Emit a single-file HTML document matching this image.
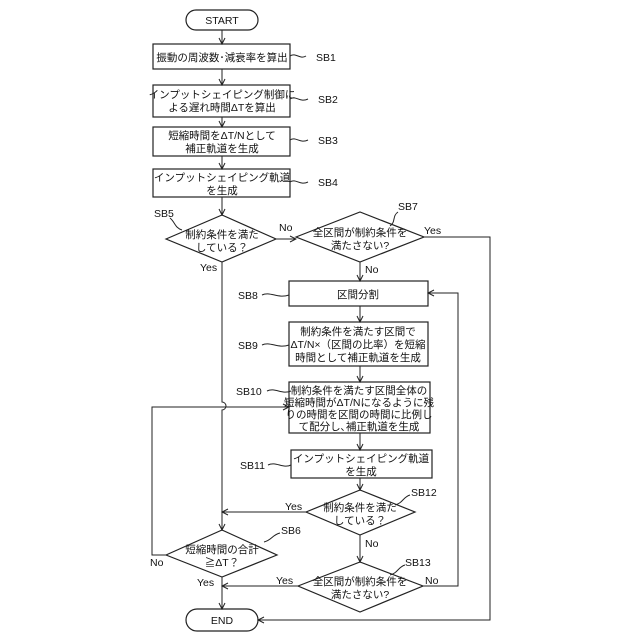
<!DOCTYPE html>
<html><head><meta charset="utf-8"><style>
body{margin:0;background:#fff}
svg{display:block}
text{font-family:"Liberation Sans","Noto Sans CJK JP",sans-serif;font-size:10.5px;fill:#111}
.l{font-size:11px}
</style></head><body>
<svg width="640" height="640" viewBox="0 0 640 640">
<defs><marker id="a" markerWidth="8" markerHeight="8" refX="7" refY="4" orient="auto" markerUnits="userSpaceOnUse"><path d="M1,1 L7,4 L1,7" fill="none" stroke="#222" stroke-width="1"/></marker></defs>
<g fill="none" stroke="#222" stroke-width="1.2">
<rect x="186" y="10" width="72" height="20" rx="10"/>
<rect x="186" y="609" width="72" height="22" rx="11"/>
<rect x="153" y="44" width="137" height="25"/>
<rect x="153" y="85" width="137" height="32"/>
<rect x="153" y="127" width="137" height="29"/>
<rect x="153" y="169" width="137" height="28"/>
<polygon points="166,239 222,215 276,239 222,262"/>
<polygon points="296,237 360,212 424,237 360,262"/>
<rect x="289" y="281" width="139" height="25"/>
<rect x="289" y="322" width="139" height="44"/>
<rect x="289" y="382" width="141" height="51"/>
<rect x="291" y="450" width="141" height="28"/>
<polygon points="306,512 360,490 415,512 360,535"/>
<polygon points="298,586 360,562 423,586 360,612"/>
<polygon points="166,555 222,530 277,555 222,577"/>
</g>
<g fill="none" stroke="#222" stroke-width="1">
<line x1="222" y1="30" x2="222" y2="44" marker-end="url(#a)"/>
<line x1="222" y1="69" x2="222" y2="85" marker-end="url(#a)"/>
<line x1="222" y1="117" x2="222" y2="127" marker-end="url(#a)"/>
<line x1="222" y1="156" x2="222" y2="169" marker-end="url(#a)"/>
<line x1="222" y1="197" x2="222" y2="215" marker-end="url(#a)"/>
<path d="M222,262 V402 A4,4 0 0 1 222,410 V530" marker-end="url(#a)"/>
<line x1="276" y1="239" x2="296" y2="239" marker-end="url(#a)"/>
<path d="M424,237 H490 V620 H258" marker-end="url(#a)"/>
<line x1="360" y1="262" x2="360" y2="281" marker-end="url(#a)"/>
<line x1="360" y1="306" x2="360" y2="322" marker-end="url(#a)"/>
<line x1="360" y1="366" x2="360" y2="382" marker-end="url(#a)"/>
<line x1="360" y1="433" x2="360" y2="450" marker-end="url(#a)"/>
<line x1="360" y1="478" x2="360" y2="490" marker-end="url(#a)"/>
<line x1="360" y1="535" x2="360" y2="562" marker-end="url(#a)"/>
<line x1="306" y1="512" x2="222" y2="512" marker-end="url(#a)"/>
<line x1="298" y1="586" x2="222" y2="586" marker-end="url(#a)"/>
<line x1="222" y1="577" x2="222" y2="609" marker-end="url(#a)"/>
<path d="M423,586 H458 V293 H428" marker-end="url(#a)"/>
<path d="M166,555 H152 V407 H289" marker-end="url(#a)"/>
<path d="M290,56 C296,52 300,60 306,56"/>
<path d="M290,99 C296,95 300,103 308,99"/>
<path d="M290,140 C296,136 300,144 308,140"/>
<path d="M290,182 C296,178 300,186 308,182"/>
<path d="M262,295 C270,291 278,299 289,295"/>
<path d="M262,345 C270,341 278,349 289,345"/>
<path d="M267,391 C275,387 282,395 291,391"/>
<path d="M268,465 C276,461 283,469 291,465"/>
<path d="M170,218 C175,222 175,228 182,230"/>
<path d="M398,212 C392,216 396,222 390,226"/>
<path d="M410,495 C403,497 403,503 395,505"/>
<path d="M405,565 C398,567 398,573 390,575"/>
<path d="M280,533 C272,535 272,540 264,542"/>
</g>
<g text-anchor="middle">
<text x="222" y="24">START</text>
<text x="222" y="624">END</text>
<text x="222" y="61">振動の周波数･減衰率を算出</text>
<text x="222" y="98">インプットシェイピング制御に</text>
<text x="222" y="111">よる遅れ時間ΔTを算出</text>
<text x="222" y="139">短縮時間をΔT/Nとして</text>
<text x="222" y="152">補正軌道を生成</text>
<text x="222" y="181">インプットシェイピング軌道</text>
<text x="222" y="194">を生成</text>
<text x="222" y="238">制約条件を満た</text>
<text x="222" y="251">している？</text>
<text x="360" y="236">全区間が制約条件を</text>
<text x="360" y="249">満たさない?</text>
<text x="358" y="298">区間分割</text>
<text x="358" y="335">制約条件を満たす区間で</text>
<text x="358" y="348">ΔT/N×（区間の比率）を短縮</text>
<text x="358" y="361">時間として補正軌道を生成</text>
<text x="359" y="394">制約条件を満たす区間全体の</text>
<text x="359" y="406">短縮時間がΔT/Nになるように残</text>
<text x="359" y="418">りの時間を区間の時間に比例し</text>
<text x="359" y="430">て配分し､補正軌道を生成</text>
<text x="361" y="462">インプットシェイピング軌道</text>
<text x="361" y="475">を生成</text>
<text x="360" y="511">制約条件を満た</text>
<text x="360" y="524">している？</text>
<text x="360" y="585">全区間が制約条件を</text>
<text x="360" y="598">満たさない?</text>
<text x="222" y="553">短縮時間の合計</text>
<text x="222" y="566">≧ΔT？</text>
</g>
<g class="l">
<text x="316" y="61">SB1</text><text x="318" y="103">SB2</text><text x="318" y="144">SB3</text><text x="318" y="186">SB4</text>
<text x="154" y="217">SB5</text><text x="398" y="210">SB7</text>
<text x="238" y="299">SB8</text><text x="238" y="349">SB9</text><text x="236" y="395">SB10</text><text x="240" y="469">SB11</text>
<text x="411" y="496">SB12</text><text x="405" y="566">SB13</text><text x="281" y="534">SB6</text>
<text x="279" y="231">No</text><text x="424" y="234">Yes</text><text x="200" y="271">Yes</text><text x="365" y="273">No</text>
<text x="285" y="510">Yes</text><text x="365" y="547">No</text><text x="276" y="584">Yes</text><text x="425" y="584">No</text>
<text x="150" y="566">No</text><text x="197" y="586">Yes</text>
</g>
</svg>
</body></html>
